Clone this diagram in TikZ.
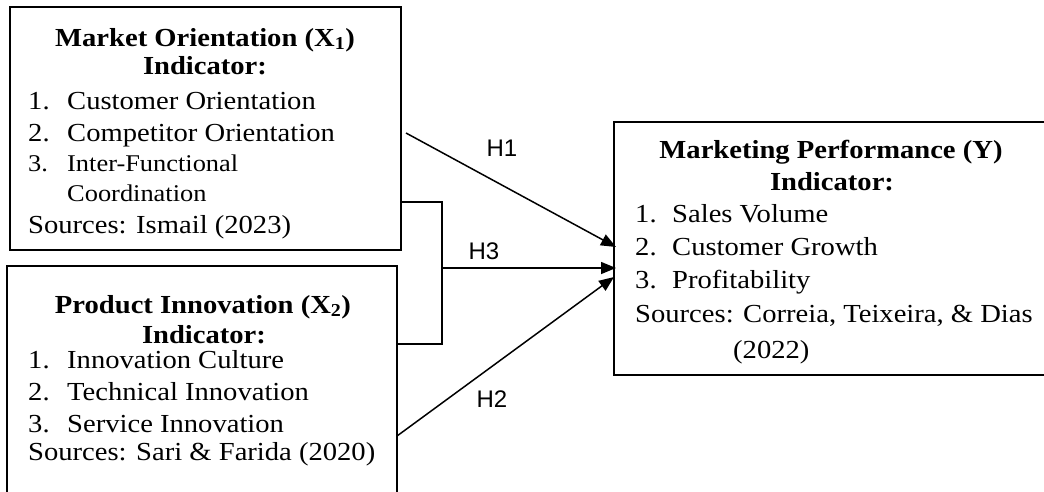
\documentclass[tikz,border=0pt]{standalone}
\usepackage{fontspec}
\setmainfont{Liberation Serif}[FakeStretch=1.1]
\newfontfamily\hfont{Liberation Sans}
\usetikzlibrary{arrows.meta}
\tikzset{
  box/.style={draw, line width=1.8pt, inner sep=0pt, outer sep=0pt, anchor=north west},
  ttl/.style={anchor=base, inner sep=0pt, font=\fontsize{26}{31}\selectfont\bfseries},
  itm/.style={anchor=base west, inner sep=0pt, font=\fontsize{26}{31}\selectfont},
  sitm/.style={anchor=base west, inner sep=0pt, font=\fontsize{24}{29}\selectfont},
  hyp/.style={inner sep=0pt, font=\hfont\fontsize{24}{28}\selectfont},
  link/.style={line width=1.5pt},
  arrow/.style={line width=1.5pt, -{Triangle[length=15pt,width=12pt]}}
}
\begin{document}
\begin{tikzpicture}[x=1pt,y=-1pt]
\useasboundingbox (0,0) rectangle (1044,491);
\clip (0,0) rectangle (1044,491);

% boxes
\node[box, minimum width=391pt, minimum height=243pt] (mo) at (10,7) {};
\node[box, minimum width=390pt, minimum height=260pt] (pi) at (7,266) {};
\node[box, minimum width=434pt, minimum height=253pt] (mp) at (614,122) {};

% Market Orientation
\node[ttl] (moT) at (205,46) {Market Orientation (X\textsubscript{1})};
\node[ttl] (moI) at (205,74) {Indicator:};
\node[itm] (mo1n) at (28,109) {1.};
\node[itm] (mo1) at (67,109) {Customer Orientation};
\node[itm] (mo2n) at (28,141) {2.};
\node[itm] (mo2) at (67,141) {Competitor Orientation};
\node[sitm] (mo3n) at (28,171) {3.};
\node[sitm] (mo3) at (67,171) {Inter-Functional};
\node[sitm] (mo3b) at (67,201) {Coordination};
\node[itm] (moS) at (28,233) {Sources: Ismail (2023)};

% Product Innovation
\node[ttl] (piT) at (203,313) {Product Innovation (X\textsubscript{2})};
\node[ttl] (piI) at (204,343) {Indicator:};
\node[itm] (pi1n) at (28,368) {1.};
\node[itm] (pi1) at (67,368) {Innovation Culture};
\node[itm] (pi2n) at (28,400) {2.};
\node[itm] (pi2) at (67,400) {Technical Innovation};
\node[itm] (pi3n) at (28,432) {3.};
\node[itm] (pi3) at (67,432) {Service Innovation};
\node[itm] (piS) at (28,460) {Sources: Sari \& Farida (2020)};

% Marketing Performance
\node[ttl] (mpT) at (831,158) {Marketing Performance (Y)};
\node[ttl] (mpI) at (832,190) {Indicator:};
\node[itm] (mp1n) at (635,222) {1.};
\node[itm] (mp1) at (672,222) {Sales Volume};
\node[itm] (mp2n) at (635,255) {2.};
\node[itm] (mp2) at (672,255) {Customer Growth};
\node[itm] (mp3n) at (635,288) {3.};
\node[itm] (mp3) at (672,288) {Profitability};
\node[itm] (mpS) at (635,322) {Sources: Correia, Teixeira, \& Dias};
\node[itm] (mpY) at (733,358) {(2022)};

% connector points
\coordinate (h1s) at (406,133);
\coordinate (h1e) at (616,247);
\coordinate (bt) at (442,202);
\coordinate (bb) at (442,344);
\coordinate (bm) at (442,268);
\coordinate (h2s) at (397,436);
\coordinate (h2e) at (614,277);

% paths
\draw[arrow] (h1s) -- (h1e);
\draw[link] (bt -| mo.east) -- (bt) -- (bb) -- (bb -| pi.east);
\draw[arrow] (bm) -- ([xshift=2pt]bm -| mp.west);
\draw[arrow] (h2s) -- (h2e);

% hypothesis labels
\node[hyp] (H1) at (502,148) {H1};
\node[hyp] (H3) at (484,251) {H3};
\node[hyp] (H2) at (492,399) {H2};
\end{tikzpicture}
\end{document}
